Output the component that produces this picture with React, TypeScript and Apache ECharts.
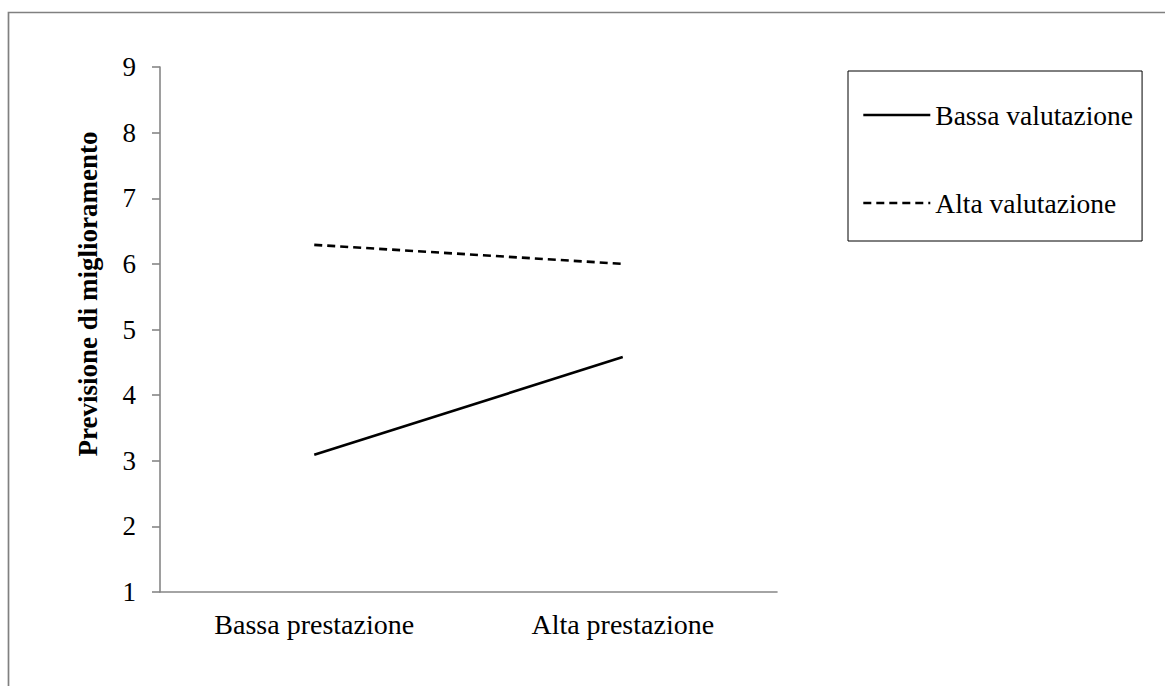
import React, { useEffect, useRef } from "react";
import * as echarts from "echarts";

const categories = ["Bassa prestazione", "Alta prestazione"];
const seriesNames = ["Bassa valutazione", "Alta valutazione"];
const bassaValutazione = [3.09, 4.58];
const altaValutazione = [6.29, 6.0];
const yAxisTitle = "Previsione di miglioramento";
const yMin = 1;
const yMax = 9;

const FONT = '"Liberation Serif", "Times New Roman", serif';

export default function App() {
  const ref = useRef<HTMLDivElement>(null);

  useEffect(() => {
    if (!ref.current) return;
    const chart = echarts.init(ref.current, undefined, { renderer: "svg" });
    chart.setOption({
      animation: false,
      backgroundColor: "#ffffff",
      textStyle: { fontFamily: FONT },
      grid: { left: 160, top: 67, width: 617, height: 525, containLabel: false },
      xAxis: {
        type: "category",
        data: categories,
        boundaryGap: true,
        axisLine: { show: true, lineStyle: { color: "#868686", width: 1.6 } },
        axisTick: { show: false },
        axisLabel: { color: "#000", fontSize: 28, fontFamily: FONT, margin: 18 },
        splitLine: { show: false },
      },
      yAxis: {
        type: "value",
        min: yMin,
        max: yMax,
        interval: 1,
        axisLine: { show: true, lineStyle: { color: "#868686", width: 1.6 } },
        axisTick: { show: true, inside: false, length: 8, lineStyle: { color: "#868686", width: 1.6 } },
        axisLabel: { color: "#000", fontSize: 27, fontFamily: FONT, margin: 24 },
        splitLine: { show: false },
      },
      legend: {
        orient: "vertical",
        left: 848,
        top: 71,
        padding: [30, 9, 24, 14],
        itemGap: 60,
        itemWidth: 67,
        itemHeight: 14,
        borderColor: "#000",
        borderWidth: 1,
        itemStyle: { opacity: 0 },
        lineStyle: { width: 2.6 },
        textStyle: { color: "#000", fontSize: 27.5, fontFamily: FONT },
        data: seriesNames,
      },
      graphic: [
        {
          type: "rect",
          shape: { x: 8.5, y: 12.5, width: 2000, height: 2000 },
          style: { fill: "none", stroke: "#808080", lineWidth: 1.7 },
          silent: true,
        },
        {
          type: "text",
          x: 88,
          y: 294,
          rotation: Math.PI / 2,
          style: {
            text: yAxisTitle,
            fill: "#000",
            font: `bold 27px ${FONT}`,
            textAlign: "center",
            textVerticalAlign: "middle",
          },
        },
      ],
      series: [
        {
          name: seriesNames[0],
          type: "line",
          data: bassaValutazione,
          symbol: "none",
          showSymbol: false,
          lineStyle: { color: "#000", width: 2.6, type: "solid" },
          itemStyle: { color: "#000" },
        },
        {
          name: seriesNames[1],
          type: "line",
          data: altaValutazione,
          symbol: "none",
          showSymbol: false,
          lineStyle: { color: "#000", width: 2.6, type: [8, 5] },
          itemStyle: { color: "#000" },
        },
      ],
    });
    return () => chart.dispose();
  }, []);

  return (
    <div
      ref={ref}
      style={{ position: "absolute", left: 0, top: 0, width: 1165, height: 686 }}
    />
  );
}
